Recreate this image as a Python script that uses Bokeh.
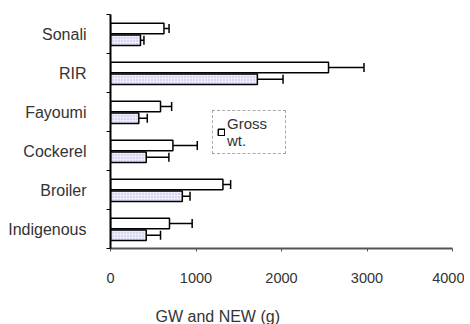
import numpy as np
from bokeh.plotting import figure
from bokeh.models import (ColumnDataSource, Range1d, FixedTicker, Whisker, TeeHead,
                          Legend, LegendItem, Title)
from bokeh.embed import file_html
from bokeh.resources import INLINE

# data (bottom to top)
categories = ["Indigenous", "Broiler", "Cockerel", "Fayoumi", "RIR", "Sonali"]
gross = [690, 1315, 730, 585, 2550, 625]
gross_err = [265, 90, 285, 130, 415, 60]
net = [418, 840, 418, 331, 1718, 351]
net_err = [167, 90, 265, 99, 300, 40]
x_ticks = [0, 1000, 2000, 3000, 4000]

FONT = "Liberation Sans"

pos = np.arange(len(categories)) + 0.5
src = ColumnDataSource(dict(
    cat=categories,
    yg=pos + 0.14, yn=pos - 0.16,
    gross=gross, gross_hi=np.array(gross) + np.array(gross_err),
    net=net, net_hi=np.array(net) + np.array(net_err),
))

p = figure(width=464, height=324, output_backend="svg", toolbar_location=None,
           x_range=Range1d(0, 4000), y_range=Range1d(0, len(categories)),
           min_border_left=110, min_border_top=14, min_border_right=12, min_border_bottom=75)
p.outline_line_color = None
p.xgrid.visible = False
p.ygrid.visible = False

rg = p.hbar(y="yg", left=0, right="gross", height=0.27, source=src,
            fill_color="white", line_color="black", line_width=1.5)
rn = p.hbar(y="yn", left=0, right="net", height=0.27, source=src,
            fill_color="#eeeefb", hatch_pattern="dot", hatch_color="#b4b4e6",
            hatch_scale=3, hatch_weight=1, line_color="black", line_width=1.5)

for base, lo, hi in (("yg", "gross", "gross_hi"), ("yn", "net", "net_hi")):
    w = Whisker(source=src, base=base, lower=lo, upper=hi, dimension="width",
                line_color="black", line_width=1.5,
                upper_head=TeeHead(size=9, line_color="black", line_width=1.5),
                lower_head=None)
    p.add_layout(w)

# axes
p.xaxis.ticker = FixedTicker(ticks=x_ticks, minor_ticks=[])
p.xaxis.major_tick_out = 3
p.xaxis.major_tick_in = 0
p.xaxis.axis_line_color = "#555555"
p.xaxis.axis_line_width = 2
p.xaxis.major_tick_line_color = "#555555"
p.xaxis.major_label_standoff = 21
p.xaxis.major_label_text_font = FONT
p.xaxis.major_label_text_font_size = "14.5px"
p.xaxis.major_label_text_color = "#333333"
# blank spacer below tick labels so the axis title sits low, as in the original
p.xaxis.axis_label = " "
p.xaxis.axis_label_text_font_size = "12px"
p.xaxis.axis_label_standoff = 3

p.yaxis.ticker = FixedTicker(ticks=list(pos), minor_ticks=list(range(len(categories) + 1)))
p.yaxis.major_label_overrides = {float(v): c for v, c in zip(pos, categories)}
p.yaxis.major_tick_out = 0
p.yaxis.major_tick_in = 0
p.yaxis.minor_tick_out = 4
p.yaxis.minor_tick_in = 0
p.yaxis.minor_tick_line_color = "black"
p.yaxis.axis_line_color = "black"
p.yaxis.axis_line_width = 2
p.yaxis.major_label_standoff = 20
p.yaxis.major_label_text_font = FONT
p.yaxis.major_label_text_font_size = "16px"
p.yaxis.major_label_text_color = "#333333"

t = Title(text="GW and NEW (g)", align="left", offset=45,
          text_font=FONT, text_font_size="16px", text_font_style="normal",
          text_color="#333333", standoff=0, text_line_height=1.0)
p.add_layout(t, "below")

legend = Legend(items=[LegendItem(label="Gross\nwt.", renderers=[rg])],
                location=(102, 94), border_line_color="#555555", border_line_width=1.5,
                border_line_dash="2 1",
                label_text_font=FONT, label_text_font_size="15px", label_text_color="#333333",
                label_text_line_height=1.0, label_width=54,
                glyph_width=8, glyph_height=8, padding=4, label_standoff=2, margin=0)
p.add_layout(legend, "center")

open("out.html", "w").write(file_html(p, INLINE))
